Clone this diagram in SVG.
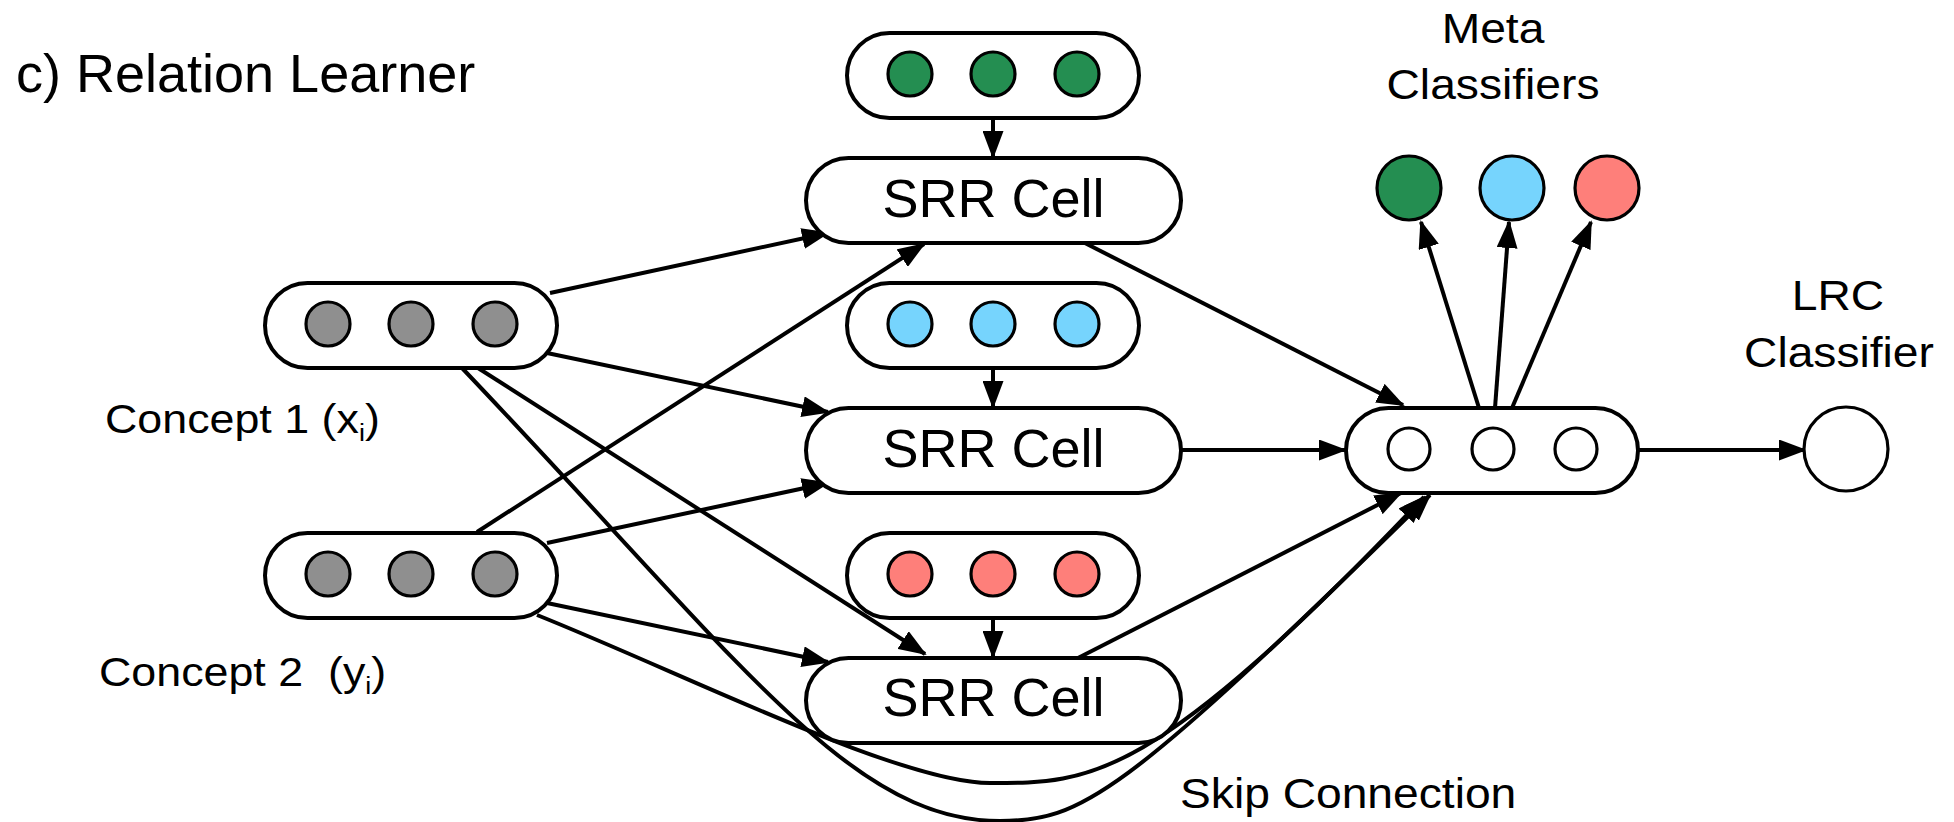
<svg xmlns="http://www.w3.org/2000/svg" width="1954" height="822" viewBox="0 0 1954 822">
<style>
  .box { fill: #fff; stroke: #000; stroke-width: 4; }
  .dot { stroke: #000; stroke-width: 3.2; }
  .gray { fill: #8f8f8f; }
  .green { fill: #248e51; }
  .blue { fill: #76d4fd; }
  .red { fill: #fe7f7a; }
  .white { fill: #fff; }
  .edge { fill: none; stroke: #000; stroke-width: 4; marker-end: url(#arr); }
  text { font-family: "Liberation Sans", Arial, Helvetica, sans-serif; fill: #000; }
  .big { font-size: 54px; }
  .lbl { font-size: 42px; }
  .clbl { font-size: 40px; }
</style>
<defs>
  <marker id="arr" markerUnits="userSpaceOnUse" viewBox="0 0 28 21" markerWidth="28" markerHeight="21" refX="26" refY="10.5" orient="auto">
    <path d="M0,0 L28,10.5 L0,21 z" fill="#000"/>
  </marker>
</defs>
<rect width="1954" height="822" fill="#fff"/>

<text class="big" x="16" y="92">c) Relation Learner</text>

<g id="connectors">
  <!-- concept 1 -->
  <line class="edge" x1="550" y1="293" x2="828" y2="233"/>
  <line class="edge" x1="547" y1="353" x2="828" y2="412"/>
  <line class="edge" x1="478" y1="368" x2="925" y2="654"/>
  <path class="edge" d="M462,368 C742,662 850,821 1000,821 C1080,821 1120,800 1430,495"/>
  <!-- concept 2 -->
  <line class="edge" x1="477" y1="532" x2="924" y2="244"/>
  <line class="edge" x1="547" y1="543" x2="828" y2="483"/>
  <line class="edge" x1="547" y1="603" x2="828" y2="662"/>
  <path class="edge" d="M537,615 C687,675 900,783 990,783 C1090,783 1150,785 1424,497"/>
  <!-- meta inputs -->
  <line class="edge" x1="993" y1="118" x2="993" y2="157"/>
  <line class="edge" x1="993" y1="368" x2="993" y2="407"/>
  <line class="edge" x1="993" y1="618" x2="993" y2="657"/>
  <!-- SRR to aggregator -->
  <line class="edge" x1="1079" y1="240" x2="1403" y2="405"/>
  <line class="edge" x1="1181" y1="450" x2="1345" y2="450"/>
  <line class="edge" x1="1078" y1="658" x2="1401" y2="493"/>
  <!-- aggregator outputs -->
  <line class="edge" x1="1479" y1="408" x2="1421" y2="222"/>
  <line class="edge" x1="1495" y1="408" x2="1509" y2="222"/>
  <line class="edge" x1="1512" y1="408" x2="1591" y2="222"/>
  <line class="edge" x1="1638" y1="450" x2="1805" y2="450"/>
</g>

<g id="concept1">
  <rect class="box" x="265" y="283" width="292" height="85" rx="42.5"/>
  <circle class="dot gray" cx="328" cy="324" r="22"/>
  <circle class="dot gray" cx="411" cy="324" r="22"/>
  <circle class="dot gray" cx="495" cy="324" r="22"/>
  <text class="clbl" transform="translate(105,433) scale(1.12,1)">Concept 1 (x<tspan font-size="24" dy="8">i</tspan><tspan dy="-8">)</tspan></text>
</g>

<g id="concept2">
  <rect class="box" x="265" y="533" width="292" height="85" rx="42.5"/>
  <circle class="dot gray" cx="328" cy="574" r="22"/>
  <circle class="dot gray" cx="411" cy="574" r="22"/>
  <circle class="dot gray" cx="495" cy="574" r="22"/>
  <text class="clbl" transform="translate(99,686) scale(1.12,1)" xml:space="preserve">Concept 2  (y<tspan font-size="24" dy="8">i</tspan><tspan dy="-8">)</tspan></text>
</g>

<g id="meta-green">
  <rect class="box" x="847" y="33" width="292" height="85" rx="42.5"/>
  <circle class="dot green" cx="910" cy="74" r="22"/>
  <circle class="dot green" cx="993" cy="74" r="22"/>
  <circle class="dot green" cx="1077" cy="74" r="22"/>
</g>

<g id="srr1">
  <rect class="box" x="806" y="158" width="375" height="85" rx="42.5"/>
  <text class="big" x="993.5" y="217" text-anchor="middle">SRR Cell</text>
</g>

<g id="meta-blue">
  <rect class="box" x="847" y="283" width="292" height="85" rx="42.5"/>
  <circle class="dot blue" cx="910" cy="324" r="22"/>
  <circle class="dot blue" cx="993" cy="324" r="22"/>
  <circle class="dot blue" cx="1077" cy="324" r="22"/>
</g>

<g id="srr2">
  <rect class="box" x="806" y="408" width="375" height="85" rx="42.5"/>
  <text class="big" x="993.5" y="467" text-anchor="middle">SRR Cell</text>
</g>

<g id="meta-red">
  <rect class="box" x="847" y="533" width="292" height="85" rx="42.5"/>
  <circle class="dot red" cx="910" cy="574" r="22"/>
  <circle class="dot red" cx="993" cy="574" r="22"/>
  <circle class="dot red" cx="1077" cy="574" r="22"/>
</g>

<g id="srr3">
  <rect class="box" x="806" y="658" width="375" height="85" rx="42.5"/>
  <text class="big" x="993.5" y="716" text-anchor="middle">SRR Cell</text>
</g>

<g id="aggregator">
  <rect class="box" x="1346" y="408" width="292" height="85" rx="42.5"/>
  <circle class="dot white" cx="1409" cy="449" r="21"/>
  <circle class="dot white" cx="1493" cy="449" r="21"/>
  <circle class="dot white" cx="1576" cy="449" r="21"/>
</g>

<g id="meta-classifiers">
  <text class="lbl" text-anchor="middle" transform="translate(1493,43) scale(1.1,1)">Meta</text>
  <text class="lbl" text-anchor="middle" transform="translate(1493,99) scale(1.1,1)">Classifiers</text>
  <circle class="dot green" cx="1409" cy="188" r="32"/>
  <circle class="dot blue" cx="1512" cy="188" r="32"/>
  <circle class="dot red" cx="1607" cy="188" r="32"/>
</g>

<g id="lrc">
  <text class="lbl" text-anchor="middle" transform="translate(1838,310) scale(1.1,1)">LRC</text>
  <text class="lbl" text-anchor="middle" transform="translate(1839,367) scale(1.1,1)">Classifier</text>
  <circle class="dot white" cx="1846" cy="449" r="42"/>
</g>

<text class="lbl" transform="translate(1180,808) scale(1.1,1)">Skip Connection</text>
</svg>
